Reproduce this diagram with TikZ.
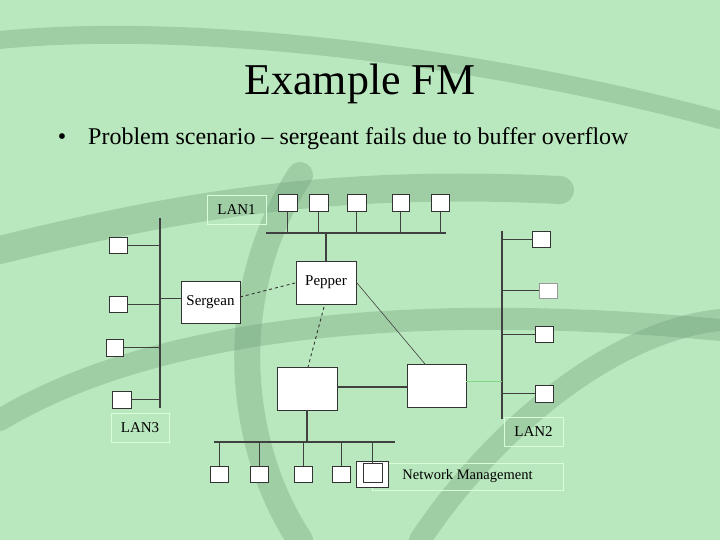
\documentclass[tikz,border=0pt]{standalone}
\usepackage{fontspec}
\setmainfont{Liberation Serif}
\begin{document}
\begin{tikzpicture}[x=1pt,y=-1pt,
  host/.style={draw=black!80,fill=white,line width=0.8pt},
  lbl/.style={draw=white!85!green,line width=0.8pt,font=\fontsize{15}{17}\selectfont,inner sep=0pt},
  bus/.style={line width=1.1pt,draw=black!75},
  thin/.style={line width=0.6pt,draw=black!75}]
\useasboundingbox (0,0) rectangle (720,540);
\fill[color={rgb,255:red,186;green,232;blue,190}] (0,0) rectangle (720,540);
\begin{scope}[opacity=0.35,line cap=round]
\draw[line width=28pt,color={rgb,255:red,110;green,160;blue,120}] (0,250) .. controls (200,200) and (350,180) .. (560,190);
\draw[line width=22pt,color={rgb,255:red,110;green,160;blue,120}] (0,420) .. controls (150,330) and (400,300) .. (720,330);
\draw[line width=26pt,color={rgb,255:red,110;green,160;blue,120}] (300,175) .. controls (220,300) and (240,450) .. (300,540);
\draw[line width=22pt,color={rgb,255:red,110;green,160;blue,120}] (420,540) .. controls (500,420) and (620,330) .. (720,320);
\draw[line width=18pt,color={rgb,255:red,110;green,160;blue,120}] (0,40) .. controls (200,20) and (500,60) .. (720,120);
\end{scope}
\node (title) at (360,84) {\fontsize{44}{48}\selectfont Example FM};
\node[inner sep=0pt] (bul) at (62,139) {\fontsize{24}{28}\selectfont •};
\node[anchor=west,inner sep=0pt] (btxt) at (88,139) {\fontsize{24}{28}\selectfont Problem scenario – sergeant fails due to buffer overflow};
% LAN1
\node[lbl,minimum width=59pt,minimum height=29pt] (lan1) at (236.5,209.5) {LAN1};
\draw[bus] (266,233) coordinate (b1l) -- (446,233) coordinate (b1r);
\foreach \n/\a/\b in {h1/278/297,h2/309/328,h3/347/366,h4/392/409,h5/431/449}{
  \node[host,minimum width=\b-\a,minimum height=17pt,inner sep=0pt] (\n) at ({(\a+\b)/2},202.5) {};
}
\foreach \n in {h1,h2,h3,h4,h5}{ \draw[thin] (\n.south) -- (\n.south |- b1l); }
% Pepper & Sergean
\node[host,minimum width=60pt,minimum height=43pt,inner sep=0pt,font=\fontsize{15}{17}\selectfont] (pep) at (326,282.5) {Pepper};
\node[host,minimum width=59pt,minimum height=42pt,inner sep=0pt,font=\fontsize{15}{17}\selectfont] (ser) at (210.5,302) {Sergean};
\draw[bus] (pep.north) -- (pep.north |- b1l);
\draw[line width=0.9pt,draw=black!80,dashed] (240,297) -- (295,283);
% LAN3
\draw[bus] (160,218) coordinate (b3t) -- (160,408) coordinate (b3b);
\node[host,minimum width=18pt,minimum height=16pt,inner sep=0pt] (l31) at (118,245) {};
\node[host,minimum width=18pt,minimum height=16pt,inner sep=0pt] (l32) at (118,304) {};
\node[host,minimum width=17pt,minimum height=17pt,inner sep=0pt] (l33) at (114.5,347.5) {};
\node[host,minimum width=19pt,minimum height=17pt,inner sep=0pt] (l34) at (121.5,399.5) {};
\foreach \n in {l31,l32,l33,l34}{ \draw[thin] (\n.east) -- (\n.east -| b3t); }
\draw[thin] (ser.west) ++(0,-4) -- (160,298);
\node[lbl,minimum width=58pt,minimum height=29pt] (lan3) at (140,427.5) {LAN3};
% A and B
\node[host,minimum width=60pt,minimum height=43pt,inner sep=0pt] (A) at (307,388.5) {};
\node[host,minimum width=59pt,minimum height=43pt,inner sep=0pt] (B) at (436.5,385.5) {};
\draw[bus] (A.east |- 0,387) -- (B.west |- 0,387);
\draw[line width=0.9pt,draw=black!80,dashed] (324,307) -- (308,367);
\draw[thin] (357,283) -- (425,364);
% LAN2
\draw[bus] (502,231) coordinate (b2t) -- (502,419);
\node[host,minimum width=18pt,minimum height=16pt,inner sep=0pt] (l21) at (541,239) {};
\node[host,draw=black!40,minimum width=18pt,minimum height=15pt,inner sep=0pt] (l22) at (548,290.5) {};
\node[host,minimum width=18pt,minimum height=16pt,inner sep=0pt] (l23) at (544,334) {};
\node[host,minimum width=18pt,minimum height=17pt,inner sep=0pt] (l24) at (544,393.5) {};
\foreach \n in {l21,l22,l23,l24}{ \draw[thin] (\n.west) -- (\n.west -| b2t); }
\draw[line width=0.8pt,draw=black!30!green!50] (B.east |- 0,381) -- (502,381);
\node[lbl,minimum width=59pt,minimum height=29pt] (lan2) at (533.5,431.5) {LAN2};
% bottom LAN
\draw[bus] (214,442) coordinate (b4l) -- (395,442);
\draw[bus] (A.south) -- (A.south |- b4l);
\foreach \n/\x in {d1/219,d2/259,d3/303,d4/341}{
  \node[host,minimum width=18pt,minimum height=16pt,inner sep=0pt] (\n) at (\x,474) {};
  \draw[thin] (\n.north) -- (\n.north |- b4l);
}
\node[lbl,minimum width=191pt,minimum height=27pt,font=\fontsize{14.5}{16}\selectfont] (nml) at (467.5,476.5) {Network Management};
\node[host,minimum width=32pt,minimum height=26pt,inner sep=0pt] (nmo) at (372,474) {};
\node[host,minimum width=19pt,minimum height=19pt,inner sep=0pt] (nm) at (372.5,472.5) {};
\draw[thin] (nm.north) -- (nm.north |- b4l);
\end{tikzpicture}
\end{document}
